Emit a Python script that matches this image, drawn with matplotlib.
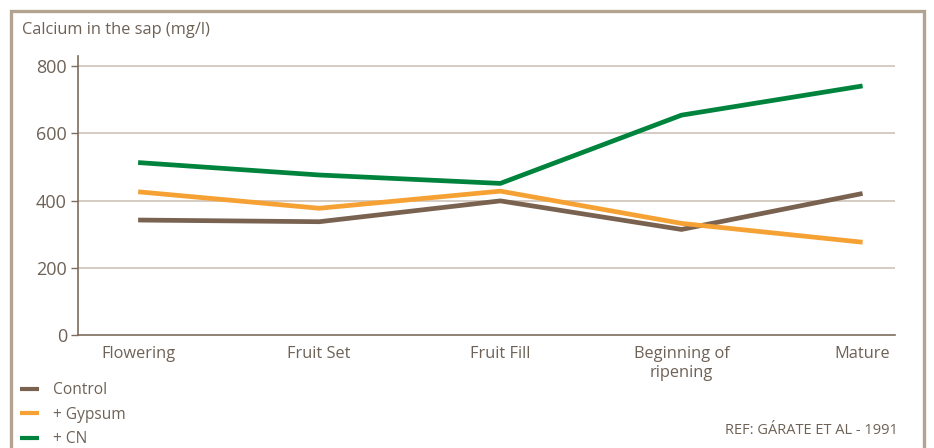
import matplotlib
matplotlib.use("Agg")
import matplotlib.pyplot as plt
from matplotlib.lines import Line2D
from matplotlib.patches import Rectangle

categories = ["Flowering", "Fruit Set", "Fruit Fill", "Beginning of\nripening", "Mature"]
control = [342, 337, 399, 314, 421]
gypsum = [426, 377, 428, 332, 276]
cn = [513, 476, 451, 654, 741]
series_names = ["Control", "+ Gypsum", "+ CN"]
yticks = [0, 200, 400, 600, 800]

colors = ["#7a6250", "#f5a133", "#00843d"]
text_color = "#6e6257"
grid_color = "#c9bdb1"
axis_color = "#7d6c5c"

plt.rcParams["font.family"] = ["Open Sans", "DejaVu Sans"]

fig = plt.figure(figsize=(9.34, 4.48), dpi=100)
ax = fig.add_axes([78/934, (448-335)/448, (895-78)/934, (335-56)/448])

x = list(range(len(categories)))
for vals, c, name in zip([control, gypsum, cn], colors, series_names):
    ax.plot(x, vals, color=c, lw=3.4, solid_capstyle="butt", solid_joinstyle="miter", label=name, zorder=3)

ax.set_xlim(-0.332, 4.179)
ax.set_ylim(0, 830)
ax.set_yticks(yticks)
ax.set_yticklabels([str(v) for v in yticks])
ax.set_xticks(x)
ax.set_xticklabels(categories, linespacing=1.2)
for v in yticks[1:]:
    ax.axhline(v, color=grid_color, lw=1.1, zorder=1)

for s in ["top", "right"]:
    ax.spines[s].set_visible(False)
for s in ["left", "bottom"]:
    ax.spines[s].set_color(axis_color)
    ax.spines[s].set_linewidth(1.2)
ax.tick_params(axis="y", length=5, width=1, color=axis_color, labelcolor=text_color, labelsize=13, pad=3)
ax.tick_params(axis="x", length=0, labelcolor=text_color, labelsize=11.8, pad=8)

fig.text(22/934, 1-30/448, "Calcium in the sap (mg/l)", color=text_color, fontsize=11.8, va="center", ha="left")
fig.text(898/934, 1-430/448, "REF: GÁRATE ET AL - 1991", color=text_color, fontsize=10.5, va="center", ha="right")

handles = [Line2D([0], [0], color=c, lw=3.0, solid_capstyle="butt") for c in colors]
fig.legend(handles, series_names, loc="upper left", bbox_to_anchor=(6/934, 1-368/448),
           frameon=False, handlelength=1.25, handletextpad=0.85, labelspacing=0.56,
           fontsize=11.2, labelcolor=text_color)

fig.patches.append(Rectangle((11/934, -0.05), (924-11)/934, 1.05-11/448, transform=fig.transFigure,
                             fill=False, edgecolor="#b3a391", lw=2.4))

fig.savefig("out.png", dpi=100)
